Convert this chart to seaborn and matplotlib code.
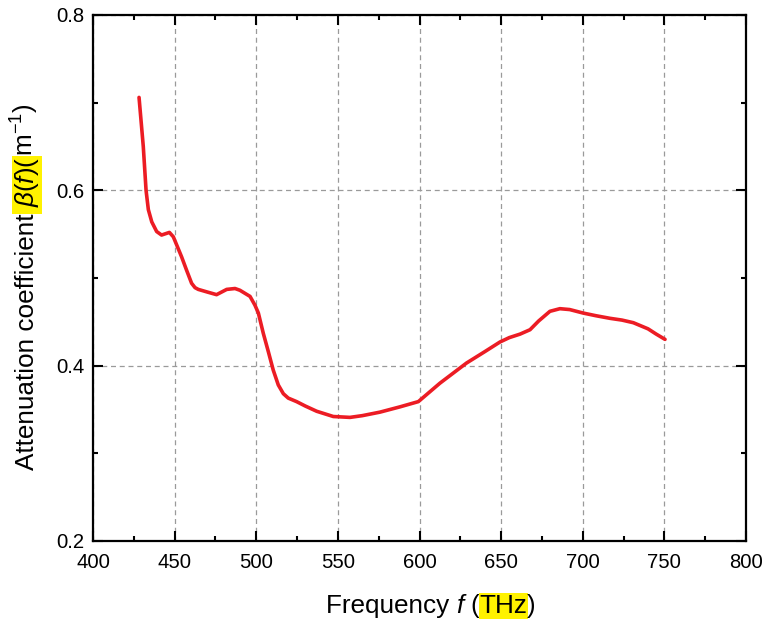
import matplotlib
matplotlib.use("Agg")
import matplotlib.pyplot as plt
from matplotlib.transforms import IdentityTransform
from matplotlib.ticker import MultipleLocator
import seaborn as sns
import pandas as pd

# ---- data ----
freq = [428.2, 430.8, 432.5, 433.9, 436.0, 439.0, 442.0, 446.8, 449.2, 454.3, 457.3,
        460.4, 462.5, 464.5, 470.0, 475.7, 481.9, 487.0, 490.0, 496.2, 499.2,
        501.3, 504.3, 507.4, 510.4, 513.5, 516.6, 519.6, 524.7, 530.0, 537.0,
        547.2, 557.4, 565.0, 575.8, 588.0, 599.3, 612.5, 628.8, 640.0, 649.3,
        655.0, 661.6, 667.7, 673.0, 679.9, 686.0, 692.0, 700.3, 708.0, 716.7,
        724.0, 731.0, 740.0, 745.0, 750.4]
beta = [0.706, 0.650, 0.600, 0.578, 0.564, 0.553, 0.549, 0.552, 0.547, 0.524, 0.509,
        0.494, 0.489, 0.487, 0.484, 0.481, 0.487, 0.488, 0.486, 0.479, 0.469,
        0.460, 0.437, 0.416, 0.395, 0.378, 0.368, 0.363, 0.359, 0.354, 0.348,
        0.342, 0.341, 0.343, 0.347, 0.353, 0.359, 0.380, 0.403, 0.416, 0.427,
        0.432, 0.436, 0.441, 0.451, 0.462, 0.465, 0.464, 0.460, 0.457, 0.454,
        0.452, 0.449, 0.442, 0.436, 0.430]
x_ticks = [400, 450, 500, 550, 600, 650, 700, 750, 800]
y_ticks = [0.2, 0.4, 0.6, 0.8]

df = pd.DataFrame({"freq": freq, "beta": beta})

sns.set_style("ticks")
plt.rcParams["font.family"] = ["Liberation Sans", "DejaVu Sans"]
plt.rcParams["mathtext.fontset"] = "custom"
plt.rcParams["mathtext.rm"] = "Liberation Sans"
plt.rcParams["mathtext.it"] = "Liberation Sans:italic"
plt.rcParams["mathtext.bf"] = "Liberation Sans:bold"
plt.rcParams["text.color"] = "black"

W, H, DPI = 767, 626, 100
fig = plt.figure(figsize=(W / DPI, H / DPI), dpi=DPI)
ax = fig.add_axes([93 / W, (H - 541) / H, (746 - 93) / W, (541 - 15) / H])

sns.lineplot(data=df, x="freq", y="beta", ax=ax, color="#ec1c24", linewidth=2.6)

ax.set_xlim(400, 800)
ax.set_ylim(0.2, 0.8)
ax.set_xticks(x_ticks)
ax.set_yticks(y_ticks)
ax.set_xticklabels([str(v) for v in x_ticks])
ax.set_yticklabels([f"{v:.1f}" for v in y_ticks])
ax.xaxis.set_minor_locator(MultipleLocator(25))
ax.yaxis.set_minor_locator(MultipleLocator(0.1))
ax.tick_params(which="both", direction="in", top=True, right=True, colors="black",
               labelcolor="black", width=1.5)
ax.tick_params(which="major", length=7, labelsize=14.6)
ax.tick_params(which="minor", length=3.5)
ax.tick_params(axis="x", which="major", pad=9)
ax.tick_params(axis="y", which="major", pad=6)
for s in ax.spines.values():
    s.set_linewidth(1.6)
    s.set_color("black")
ax.grid(True, which="major", linestyle=(0, (4, 3)), color="#9a9a9a", linewidth=0.9)
ax.set_xlabel("")
ax.set_ylabel("")

# ---- composite axis labels with highlighted parts ----
renderer = fig.canvas.get_renderer()
hl = dict(facecolor="#fff200", edgecolor="none", pad=0.6)
FS = 18.8


def chain(pieces, rotation, anchor, center):
    texts = []
    x, y = 0.0, 0.0
    for s, kw, gap in pieces:
        if rotation == 0:
            x += gap
        else:
            y += gap
        t = fig.text(x, y, s, transform=IdentityTransform(), rotation=rotation,
                     rotation_mode="anchor", ha="left", va="baseline",
                     fontsize=FS, color="black", **kw)
        texts.append(t)
        bb = t.get_window_extent(renderer)
        if rotation == 0:
            x = bb.x1
        else:
            y = bb.y1
    if rotation == 0:
        dx = center - x / 2.0
        for t in texts:
            px, py = t.get_position()
            t.set_position((px + dx, anchor))
    else:
        dy = center - y / 2.0
        for t in texts:
            px, py = t.get_position()
            t.set_position((anchor, py + dy))
    return texts


chain([("Frequency ", {}, 0),
       ("f", {"style": "italic"}, 0),
       ("(", {}, 7),
       ("THz", {"bbox": hl}, 0),
       (")", {}, 0)],
      rotation=0, anchor=H - 613, center=431)

chain([("Attenuation coefficient", {}, 0),
       (" $\\beta(f)$(", {"bbox": hl}, 0),
       ("m$^{-1}$)", {}, 0)],
      rotation=90, anchor=34, center=H - 287)

fig.savefig("out.png", dpi=DPI)
